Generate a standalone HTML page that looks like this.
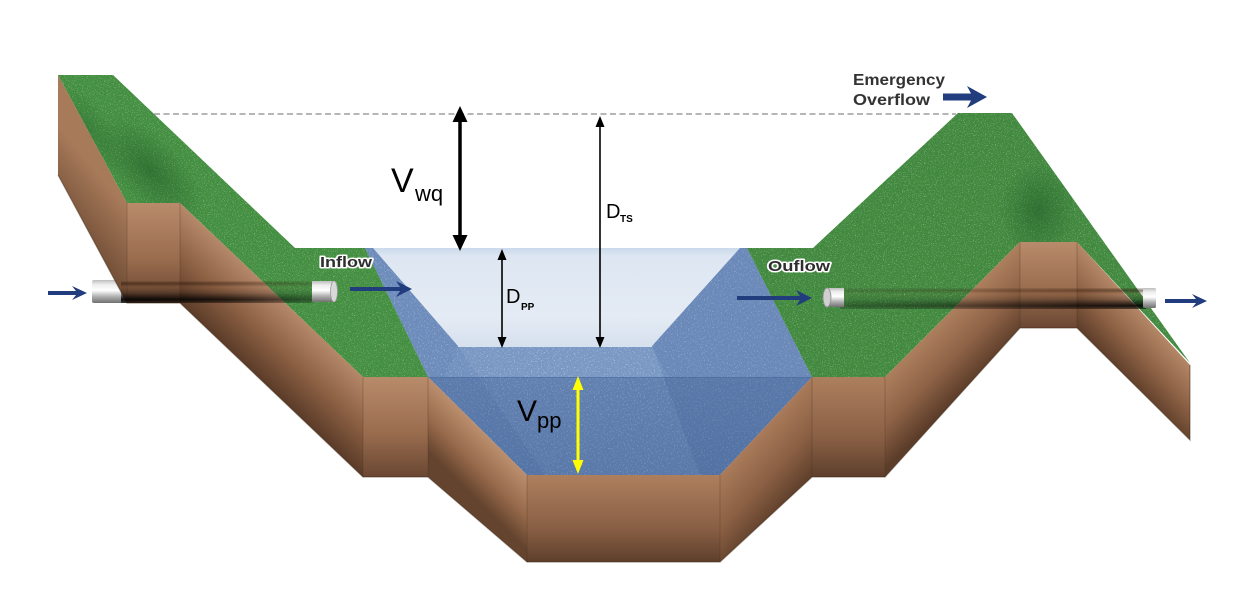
<!DOCTYPE html>
<html><head><meta charset="utf-8"><style>
html,body{margin:0;padding:0;background:#fff;}
svg{display:block;}
text{font-family:"Liberation Sans",Arial,sans-serif;}
</style></head><body>
<svg width="1244" height="601" viewBox="0 0 1244 601" xmlns="http://www.w3.org/2000/svg">
<defs>
 <filter id="grassTex" x="0" y="0" width="100%" height="100%">
  <feTurbulence type="fractalNoise" baseFrequency="0.9" numOctaves="2" seed="4" result="n"/>
  <feColorMatrix in="n" type="matrix" values="0 0 0 0 0.08  0 0 0 0 0.25  0 0 0 0 0.08  2 0 0 0 -0.95" result="dk"/>
  <feColorMatrix in="n" type="matrix" values="0 0 0 0 0.45  0 0 0 0 0.75  0 0 0 0 0.4  -2 0 0 0 0.85" result="lt"/>
  <feComposite in="dk" in2="SourceGraphic" operator="in" result="dk2"/>
  <feComposite in="lt" in2="SourceGraphic" operator="in" result="lt2"/>
  <feMerge><feMergeNode in="SourceGraphic"/><feMergeNode in="dk2"/><feMergeNode in="lt2"/></feMerge>
 </filter>
 <filter id="waterTex" x="0" y="0" width="100%" height="100%">
  <feTurbulence type="fractalNoise" baseFrequency="0.7" numOctaves="2" seed="9" result="n"/>
  <feColorMatrix in="n" type="matrix" values="0 0 0 0 0.2  0 0 0 0 0.3  0 0 0 0 0.5  1.4 0 0 0 -0.62" result="dk"/>
  <feColorMatrix in="n" type="matrix" values="0 0 0 0 0.85  0 0 0 0 0.9  0 0 0 0 1  -1.4 0 0 0 0.62" result="lt"/>
  <feComposite in="dk" in2="SourceGraphic" operator="in" result="dk2"/>
  <feComposite in="lt" in2="SourceGraphic" operator="in" result="lt2"/>
  <feMerge><feMergeNode in="SourceGraphic"/><feMergeNode in="dk2"/><feMergeNode in="lt2"/></feMerge>
 </filter>

 <linearGradient id="pale" x1="0" y1="0" x2="0" y2="1">
  <stop offset="0" stop-color="#cad9eb"/>
  <stop offset="0.08" stop-color="#dde6f2"/>
  <stop offset="0.7" stop-color="#e4ebf4"/>
  <stop offset="1" stop-color="#d6e1ee"/>
 </linearGradient>
 <linearGradient id="frontW" x1="0" y1="0" x2="0" y2="1">
  <stop offset="0" stop-color="#24467e" stop-opacity="0.24"/>
  <stop offset="1" stop-color="#24467e" stop-opacity="0.34"/>
 </linearGradient>

 <linearGradient id="pipeG" x1="0" y1="0" x2="0" y2="1">
  <stop offset="0" stop-color="#bdbdbd"/>
  <stop offset="0.2" stop-color="#eeeeee"/>
  <stop offset="0.45" stop-color="#ffffff"/>
  <stop offset="0.72" stop-color="#b0b0b0"/>
  <stop offset="1" stop-color="#707070"/>
 </linearGradient>
 <linearGradient id="burySh" x1="0" y1="0" x2="0" y2="1">
  <stop offset="0" stop-color="#3a2010" stop-opacity="0.15"/>
  <stop offset="0.12" stop-color="#2a1508" stop-opacity="0.55"/>
  <stop offset="0.28" stop-color="#5a3520" stop-opacity="0.15"/>
  <stop offset="0.55" stop-color="#000" stop-opacity="0.3"/>
  <stop offset="0.85" stop-color="#000" stop-opacity="0.92"/>
  <stop offset="1" stop-color="#000" stop-opacity="0.5"/>
 </linearGradient>
 <linearGradient id="fadeL" x1="0" y1="0" x2="1" y2="0">
  <stop offset="0" stop-color="#fff" stop-opacity="1"/>
  <stop offset="0.55" stop-color="#fff" stop-opacity="0.85"/>
  <stop offset="1" stop-color="#fff" stop-opacity="0.45"/>
 </linearGradient>
 <linearGradient id="fadeR" x1="0" y1="0" x2="1" y2="0">
  <stop offset="0" stop-color="#fff" stop-opacity="0.35"/>
  <stop offset="0.5" stop-color="#fff" stop-opacity="0.6"/>
  <stop offset="1" stop-color="#fff" stop-opacity="1"/>
 </linearGradient>
 <mask id="mL"><rect x="121" y="278" width="192" height="28" fill="url(#fadeL)"/></mask>
 <mask id="mR"><rect x="840" y="285" width="306" height="28" fill="url(#fadeR)"/></mask>

 <linearGradient id="bSide" x1="120" y1="200" x2="60" y2="250" gradientUnits="userSpaceOnUse">
  <stop offset="0" stop-color="#a77a59"/>
  <stop offset="1" stop-color="#5e3e2a"/>
 </linearGradient>
 <linearGradient id="bVert" x1="0" y1="0" x2="0" y2="1">
  <stop offset="0" stop-color="#b88b6b"/>
  <stop offset="0.55" stop-color="#9a6d4e"/>
  <stop offset="1" stop-color="#6a4733"/>
 </linearGradient>
 <linearGradient id="bVert2" x1="0" y1="0" x2="0" y2="1">
  <stop offset="0" stop-color="#ad7f5e"/>
  <stop offset="0.6" stop-color="#8a6045"/>
  <stop offset="1" stop-color="#5e3f2c"/>
 </linearGradient>
 <linearGradient id="bS1" x1="271" y1="290" x2="221" y2="343" gradientUnits="userSpaceOnUse">
  <stop offset="0" stop-color="#b5886a"/>
  <stop offset="0.5" stop-color="#8d6144"/>
  <stop offset="1" stop-color="#5a3b28"/>
 </linearGradient>
 <linearGradient id="bS2" x1="477" y1="426" x2="440" y2="463" gradientUnits="userSpaceOnUse">
  <stop offset="0" stop-color="#bb8f6e"/>
  <stop offset="0.55" stop-color="#976a4b"/>
  <stop offset="1" stop-color="#65442f"/>
 </linearGradient>
 <linearGradient id="bS3" x1="766" y1="426" x2="816" y2="472" gradientUnits="userSpaceOnUse">
  <stop offset="0" stop-color="#a97b5a"/>
  <stop offset="0.55" stop-color="#8a5f43"/>
  <stop offset="1" stop-color="#5e3f2b"/>
 </linearGradient>
 <linearGradient id="bS4" x1="952" y1="310" x2="998" y2="356" gradientUnits="userSpaceOnUse">
  <stop offset="0" stop-color="#ad7f5e"/>
  <stop offset="0.55" stop-color="#8c6145"/>
  <stop offset="1" stop-color="#5c3d2a"/>
 </linearGradient>
 <linearGradient id="bS5" x1="1133" y1="303" x2="1089" y2="344" gradientUnits="userSpaceOnUse">
  <stop offset="0" stop-color="#b48767"/>
  <stop offset="0.5" stop-color="#8e6245"/>
  <stop offset="1" stop-color="#583a27"/>
 </linearGradient>

 <radialGradient id="darkG" cx="0.5" cy="0.5" r="0.5">
  <stop offset="0" stop-color="#1f5a25" stop-opacity="0.55"/>
  <stop offset="1" stop-color="#1f5a25" stop-opacity="0"/>
 </radialGradient>
 <clipPath id="cLG"><polygon points="58,75 113,75 295,248 365,248 428,377 363,377 180,203 127,203"/></clipPath>
 <clipPath id="cRG"><polygon points="747,248 813,248 958,113 1012,113 1190,363 1077,242 1020,242 885,377 812,377"/></clipPath>
</defs>

<rect width="1244" height="601" fill="#fff"/>

<line x1="154" y1="114" x2="956" y2="114" stroke="#8a8a8a" stroke-width="1.3" stroke-dasharray="6 3.5"/>

<!-- WATER -->
<g filter="url(#waterTex)">
 <polygon points="365,248 747,248 812,377 720,475 527,475 428,377" fill="#7393c1"/>
</g>
<polygon points="740,248 747,248 812,377 720,475 700,475 652,346" fill="#4f71a5" opacity="0.28"/>
<polygon points="365,248 373,248 458,346 545,475 527,475 428,377" fill="#4f71a5" opacity="0.18"/>
<polygon points="458,346 652,346 668,377 445,377" fill="#a9c0df" opacity="0.1"/>
<polygon points="428,377 812,377 720,475 527,475" fill="url(#frontW)"/>
<line x1="428" y1="377.5" x2="812" y2="377.5" stroke="#3a5d92" stroke-width="1" opacity="0.35"/>
<polygon points="373,248 740,248 652,346 458,346" fill="url(#pale)"/>
<line x1="458" y1="346.5" x2="652" y2="346.5" stroke="#eef3f9" stroke-width="1" opacity="0.8"/>

<rect x="92" y="280" width="40" height="23" rx="2" fill="url(#pipeG)"/>

<!-- GRASS -->
<g filter="url(#grassTex)">
 <polygon points="58,75 113,75 295,248 365,248 428,377 363,377 180,203 127,203" fill="#43903f"/>
 <polygon points="747,248 813,248 958,113 1012,113 1190,363 1077,242 1020,242 885,377 812,377" fill="#40893c"/>
</g>
<g clip-path="url(#cLG)">
 <ellipse cx="150" cy="170" rx="70" ry="32" transform="rotate(45 150 170)" fill="url(#darkG)"/>
 <ellipse cx="90" cy="130" rx="50" ry="20" transform="rotate(60 90 130)" fill="url(#darkG)" opacity="0.6"/>
</g>
<g clip-path="url(#cRG)">
 <ellipse cx="1038" cy="210" rx="38" ry="48" fill="url(#darkG)"/>
</g>

<!-- DIRT -->
<polygon points="58,75 127,203 127,303 58,175" fill="url(#bSide)"/>
<polygon points="127,203 180,203 180,303 127,303" fill="url(#bVert)"/>
<polygon points="180,203 363,377 363,477 180,303" fill="url(#bS1)"/>
<polygon points="363,377 428,377 428,477 363,477" fill="url(#bVert)"/>
<polygon points="428,377 527,475 527,562 428,477" fill="url(#bS2)"/>
<polygon points="527,475 720,475 720,562 527,562" fill="url(#bVert2)"/>
<polygon points="720,475 812,377 812,477 720,562" fill="url(#bS3)"/>
<polygon points="812,377 885,377 885,477 812,477" fill="url(#bVert2)"/>
<polygon points="885,377 1020,242 1020,328 885,477" fill="url(#bS4)"/>
<polygon points="1020,242 1077,242 1077,328 1020,328" fill="url(#bVert)"/>
<polygon points="1077,242 1190,365 1190,440 1077,328" fill="url(#bS5)"/>
<g stroke="#4a2e1c" stroke-opacity="0.18" stroke-width="1.5">
 <line x1="127" y1="203" x2="127" y2="303"/>
 <line x1="180" y1="203" x2="180" y2="303"/>
 <line x1="363" y1="377" x2="363" y2="477"/>
 <line x1="428" y1="377" x2="428" y2="477"/>
 <line x1="527" y1="475" x2="527" y2="562"/>
 <line x1="720" y1="475" x2="720" y2="562"/>
 <line x1="812" y1="377" x2="812" y2="477"/>
 <line x1="885" y1="377" x2="885" y2="477"/>
 <line x1="1020" y1="242" x2="1020" y2="328"/>
 <line x1="1077" y1="242" x2="1077" y2="328"/>
</g>
<polyline points="58,175 127,303 180,303 363,477 428,477 527,562 720,562 812,477 885,477 1020,328 1077,328 1190,440 1190,365" fill="none" stroke="#3e2717" stroke-opacity="0.45" stroke-width="1.2"/>

<rect x="121" y="281" width="192" height="22" fill="url(#burySh)" mask="url(#mL)"/>
<rect x="840" y="288" width="306" height="21" fill="url(#burySh)" mask="url(#mR)"/>

<rect x="312" y="281" width="23" height="21" fill="url(#pipeG)"/>
<ellipse cx="334" cy="291.5" rx="3.5" ry="10.5" fill="#d9d9d9" stroke="#9a9a9a" stroke-width="0.8"/>
<rect x="826" y="288" width="18" height="19" fill="url(#pipeG)"/>
<ellipse cx="827" cy="297.5" rx="4" ry="9.5" fill="#cfcfcf" stroke="#8a8a8a" stroke-width="0.8"/>
<rect x="1143" y="288" width="13" height="20" rx="1.5" fill="url(#pipeG)"/>

<g fill="#213d7d">
 <path d="M48,291 L76,291 L72,286 L87,293 L72,300 L76,295 L48,295 Z"/>
 <path d="M350,287 L400,287 L396,281 L412,289 L396,297 L400,291 L350,291 Z"/>
 <path d="M737,296 L800,296 L796,290 L812,298 L796,306 L800,300 L737,300 Z"/>
 <path d="M1165,299 L1196,299 L1192,294 L1207,301 L1192,308 L1196,303 L1165,303 Z"/>
 <path d="M943,93.5 L971,93.5 L967,86 L987,97 L967,108 L971,100.5 L943,100.5 Z"/>
</g>

<g font-weight="bold" font-size="15" fill="#2e2e2e" stroke="#ffffff" stroke-width="3" paint-order="stroke" stroke-linejoin="round">
 <text x="320" y="267" textLength="52" lengthAdjust="spacingAndGlyphs">Inflow</text>
 <text x="768" y="271" textLength="62" lengthAdjust="spacingAndGlyphs">Ouflow</text>
</g>
<g font-weight="bold" font-size="15.5" fill="#333">
 <text x="853" y="85" textLength="92" lengthAdjust="spacingAndGlyphs">Emergency</text>
 <text x="853" y="105" textLength="77" lengthAdjust="spacingAndGlyphs">Overflow</text>
</g>

<line x1="460" y1="118" x2="460" y2="239" stroke="#000" stroke-width="3.5"/>
<polygon points="460,106 452.5,122 467.5,122" fill="#000"/>
<polygon points="460,251 452.5,235 467.5,235" fill="#000"/>

<line x1="600" y1="124" x2="600" y2="340" stroke="#000" stroke-width="1.6"/>
<polygon points="600,116 595.5,127 604.5,127" fill="#000"/>
<polygon points="600,348 595.5,337 604.5,337" fill="#000"/>

<line x1="502" y1="257" x2="502" y2="340" stroke="#000" stroke-width="1.6"/>
<polygon points="502,249 497.5,260 506.5,260" fill="#000"/>
<polygon points="502,348 497.5,337 506.5,337" fill="#000"/>

<line x1="578" y1="386" x2="578" y2="464" stroke="#ffff00" stroke-width="3"/>
<polygon points="578,376 572.5,390 583.5,390" fill="#ffff00"/>
<polygon points="578,474 572.5,460 583.5,460" fill="#ffff00"/>

<text x="391" y="192" font-size="34" fill="#000">V</text>
<text x="415" y="201" font-size="22" fill="#000">wq</text>
<text x="606" y="218" font-size="20" fill="#000">D</text>
<text x="620" y="222" font-size="10" font-weight="bold" fill="#000">TS</text>
<text x="506" y="303" font-size="20" fill="#000">D</text>
<text x="521" y="310" font-size="10" font-weight="bold" fill="#000">PP</text>
<text x="517" y="421" font-size="30" fill="#000">V</text>
<text x="537" y="428" font-size="22" fill="#000">pp</text>
</svg>
</body></html>
